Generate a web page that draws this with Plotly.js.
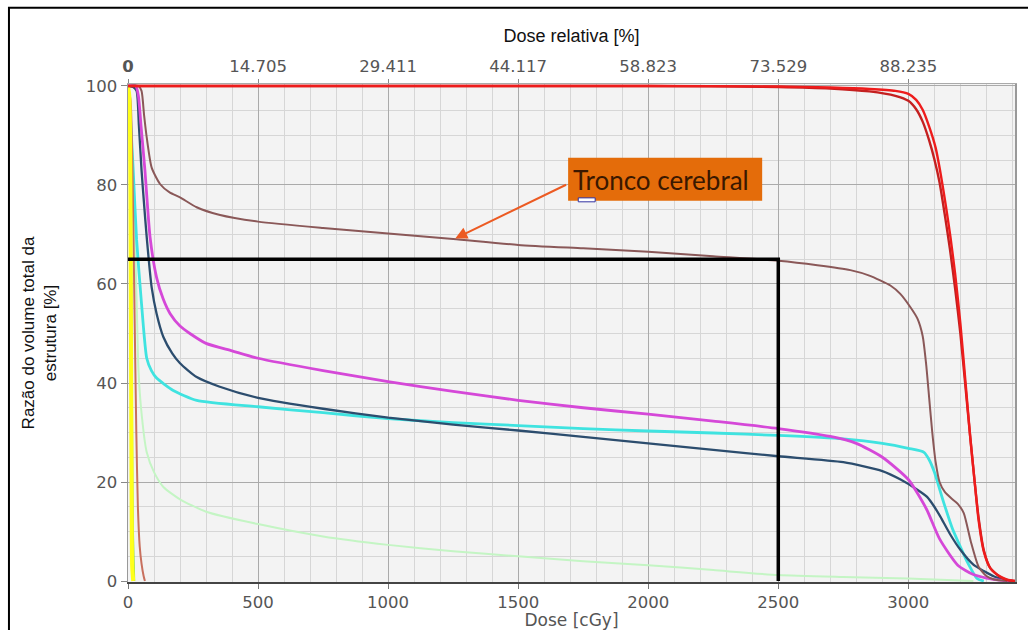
<!DOCTYPE html>
<html>
<head>
<meta charset="utf-8">
<script src="https://cdn.plot.ly/plotly-3.0.1.min.js"></script>
<style>
  html, body { margin: 0; padding: 0; background: #ffffff; }
  #chart { width: 1028px; height: 630px; }
</style>
</head>
<body>
<div id="chart"></div>
<script>
// ---- Data (dose in cGy, volume in %) ----
const redAX = [0, 20, 500, 1000, 1500, 2000, 2500, 2700, 2850, 2950, 3000, 3030, 3055, 3080, 3105, 3125, 3145, 3162, 3180, 3200, 3220, 3238, 3255, 3270, 3290, 3315, 3350, 3380, 3410];
const redAY = [100, 100, 100, 100, 100, 100, 99.9, 99.7, 99.4, 99.0, 98.4, 97.2, 95.2, 91.8, 87.5, 82, 75.5, 69.4, 62, 52, 40, 29, 20, 12.3, 6, 2.6, 1, 0.3, 0];

const redBX = [0, 20, 500, 1000, 1500, 2000, 2500, 2700, 2850, 2950, 3000, 3030, 3055, 3080, 3100, 3120, 3140, 3160, 3180, 3200, 3220, 3238, 3255, 3270, 3290, 3315, 3350, 3380, 3410];
const redBY = [100, 100, 100, 100, 100, 100, 99.8, 99.5, 98.9, 98.0, 97.0, 95.3, 92.8, 89, 85.2, 80.5, 74, 67, 59, 50, 39, 29, 20, 12.8, 6.2, 2.6, 0.9, 0.2, 0];

const troncoX = [0, 40, 52, 62, 72, 91, 123, 160, 200, 264, 350, 500, 750, 1000, 1250, 1500, 1750, 2000, 2250, 2500, 2650, 2777, 2850, 2931, 2969, 3008, 3035, 3055, 3068, 3080, 3092, 3105, 3120, 3140, 3165, 3190, 3213, 3240, 3270, 3300, 3330, 3380];
const troncoY = [100, 100, 99, 94, 89.6, 83.5, 80.2, 78.5, 77.5, 75.5, 74, 72.6, 71.3, 70.2, 69.1, 67.9, 67.2, 66.5, 65.6, 64.7, 63.8, 62.8, 61.7, 59.7, 58, 55.3, 53, 49.5, 44, 37, 30, 24, 20, 18, 16.7, 15.6, 13.7, 8, 2.9, 1, 0.3, 0];

const magentaX = [0, 30, 40, 50, 65, 85, 110, 135, 162, 200, 238, 300, 400, 500, 750, 1000, 1250, 1500, 1750, 2000, 2250, 2500, 2700, 2800, 2900, 3000, 3070, 3120, 3190, 3250, 3300, 3360, 3400];
const magentaY = [100, 100, 98, 92, 83, 69.4, 61.3, 57, 54, 51.5, 50, 48, 46.5, 45, 42.5, 40.3, 38.3, 36.5, 35, 33.7, 32.3, 30.8, 29.2, 27.8, 25, 20.5, 14.5, 8.5, 3.2, 1.3, 0.6, 0.15, 0];

const navyX = [0, 20, 33, 42, 52, 62, 72, 91, 110, 136, 170, 200, 264, 350, 500, 750, 1000, 1250, 1500, 1750, 2000, 2250, 2500, 2750, 2900, 2970, 3030, 3072, 3100, 3123, 3160, 3200, 3250, 3290, 3330, 3370, 3400];
const navyY = [100, 99.8, 99, 92, 83, 76, 69.4, 59.3, 54, 49.3, 46, 44, 41.2, 39.3, 37, 34.8, 33, 31.6, 30.4, 29.1, 27.8, 26.5, 25.2, 24, 22.2, 20.5, 18.6, 17, 15, 13, 9.5, 6.3, 3.3, 2, 0.9, 0.2, 0];

const cyanX = [0, 8, 15, 20, 33, 52, 72, 90, 110, 174, 264, 500, 750, 1000, 1250, 1500, 1750, 2000, 2250, 2500, 2750, 2900, 3000, 3060, 3080, 3100, 3135, 3170, 3200, 3230, 3264, 3290];
const cyanY = [100, 95, 88, 83, 69, 56, 45, 42.5, 41, 38.5, 36.5, 35.2, 34, 32.8, 32, 31.4, 30.8, 30.3, 29.9, 29.4, 28.7, 27.8, 26.8, 26, 24.5, 22, 16, 10.5, 6.9, 3.5, 0.5, 0];

const paleGreenX = [0, 10, 20, 27, 34, 40, 50, 72, 100, 136, 200, 300, 500, 750, 1000, 1250, 1500, 1750, 2000, 2250, 2500, 2750, 3000, 3100, 3200, 3250];
const paleGreenY = [100, 90, 80, 69, 55, 43, 35, 26, 22, 19, 16.5, 14, 11.5, 9, 7.3, 6, 5, 4, 3.2, 2.2, 1.2, 0.8, 0.5, 0.3, 0.1, 0];

const salmonX = [0, 10, 18, 25, 32, 38, 45, 52, 60, 65];
const salmonY = [100, 97, 80, 55, 30, 15, 7, 3.5, 1, 0];

const yellowX = [0, 5, 8, 10, 12, 14, 16, 20];
const yellowY = [100, 98, 90, 70, 40, 15, 3, 0];

const greenX = [0, 6, 10, 13, 16, 19, 24];
const greenY = [100, 97, 85, 60, 30, 10, 0];

// Reference lines (Tronco cerebral: 65% at 2500 cGy)
const refLineX = [0, 2500, 2500];
const refLineY = [65, 65, 0];

// Axis ticks
const doseTicks = [0, 500, 1000, 1500, 2000, 2500, 3000];
const doseTickText = ['0', '500', '1000', '1500', '2000', '2500', '3000'];
const relTickText = ['<b>0</b>', '14.705', '29.411', '44.117', '58.823', '73.529', '88.235'];
const volTicks = [0, 20, 40, 60, 80, 100];

const annotationLabel = 'Tronco cerebral';
const xMax = 3410;

// ---- Traces ----
function line(x, y, color, width) {
  return { x: x, y: y, type: 'scatter', mode: 'lines', line: { color: color, width: width, shape: 'spline', smoothing: 0.6 }, hoverinfo: 'skip', showlegend: false };
}

const traces = [
  line(paleGreenX, paleGreenY, '#c4f5c4', 2),
  line(cyanX, cyanY, '#3fe3e0', 2.8),
  line(navyX, navyY, '#2c4d6e', 2.3),
  line(magentaX, magentaY, '#d548d8', 2.8),
  line(troncoX, troncoY, '#8a5858', 2),
  line(salmonX, salmonY, '#c8705e', 2),
  line(greenX, greenY, '#9adf40', 2),
  line(yellowX, yellowY, '#ffff1a', 4),
  line(redBX, redBY, '#c42020', 2.4),
  line(redAX, redAY, '#ee1c1c', 2.4),
  { x: refLineX, y: refLineY, type: 'scatter', mode: 'lines', line: { color: '#000000', width: 3.5 }, hoverinfo: 'skip', showlegend: false },
  { x: [0, xMax], y: [-50, -50], xaxis: 'x2', type: 'scatter', mode: 'lines', line: { color: 'rgba(0,0,0,0)', width: 0 }, hoverinfo: 'skip', showlegend: false }
];

// ---- Layout ----
const tickFont = { family: 'DejaVu Sans, Verdana, sans-serif', size: 16.5, color: '#555555' };

const layout = {
  width: 1028,
  height: 630,
  margin: { l: 128, r: 13, t: 84, b: 48 },
  paper_bgcolor: '#ffffff',
  plot_bgcolor: '#f3f3f3',
  showlegend: false,
  hovermode: false,
  xaxis: {
    range: [0, xMax],
    tickvals: doseTicks,
    ticktext: doseTickText,
    tickfont: tickFont,
    ticks: 'outside', ticklen: 5, tickcolor: '#777777',
    showgrid: true, gridcolor: '#aaaaaa', gridwidth: 1,
    minor: { dtick: 100, showgrid: true, gridcolor: '#d6d6d6', gridwidth: 1 },
    showline: true, linecolor: '#444444', linewidth: 1.5,
    zeroline: false,
    title: { text: 'Dose [cGy]', font: { family: 'DejaVu Sans, Verdana, sans-serif', size: 17, color: '#555555' }, standoff: 0 }
  },
  xaxis2: {
    overlaying: 'x',
    side: 'top',
    range: [0, xMax],
    tickvals: doseTicks,
    ticktext: relTickText,
    tickfont: tickFont,
    ticks: 'outside', ticklen: 4, tickcolor: '#888888',
    showgrid: false,
    showline: true, linecolor: '#aaaaaa', linewidth: 1,
    zeroline: false,
    title: { text: 'Dose relativa [%]', font: { family: 'Liberation Sans, Arial, sans-serif', size: 18, color: '#111111' }, standoff: 10 }
  },
  yaxis: {
    range: [-0.2, 100.4],
    tickvals: volTicks,
    tickfont: tickFont,
    ticks: 'outside', ticklen: 6, tickcolor: '#888888',
    showgrid: true, gridcolor: '#aaaaaa', gridwidth: 1,
    minor: { dtick: 5, showgrid: true, gridcolor: '#d6d6d6', gridwidth: 1 },
    showline: true, linecolor: '#999999', linewidth: 1.5, mirror: true,
    zeroline: false,
    title: { text: 'Razão do volume total da<br>estrutura [%]', font: { family: 'Liberation Sans, Arial, sans-serif', size: 17, color: '#111111' }, standoff: 24 }
  },
  shapes: [
    { type: 'rect', xref: 'x', yref: 'y', x0: 1692, x1: 2438, y0: 76.8, y1: 85.5, fillcolor: '#e46c0a', line: { width: 0 }, layer: 'above' },
    { type: 'rect', xref: 'x', yref: 'y', x0: 1731, x1: 1796, y0: 76.6, y1: 77.4, fillcolor: '#ffffff', line: { color: '#3030a0', width: 1 }, layer: 'above' },
    { type: 'rect', xref: 'paper', yref: 'paper', x0: -0.1342, x1: 1.05, y0: -0.15, y1: 1.1532, fillcolor: 'rgba(0,0,0,0)', line: { color: '#000000', width: 2 }, layer: 'above' }
  ],
  annotations: [
    {
      xref: 'x', yref: 'y', x: 2050, y: 81.0, text: annotationLabel, showarrow: false,
      font: { family: 'Lato, Open Sans, sans-serif', size: 26, color: '#3a1800' }
    },
    {
      xref: 'x', yref: 'y', x: 1258, y: 69.2, axref: 'x', ayref: 'y', ax: 1690, ay: 80.2,
      text: '', showarrow: true, arrowhead: 2, arrowsize: 1.2, arrowwidth: 2, arrowcolor: '#ec5a22'
    }
  ]
};

Plotly.newPlot('chart', traces, layout, { staticPlot: true, displayModeBar: false });
</script>
</body>
</html>
